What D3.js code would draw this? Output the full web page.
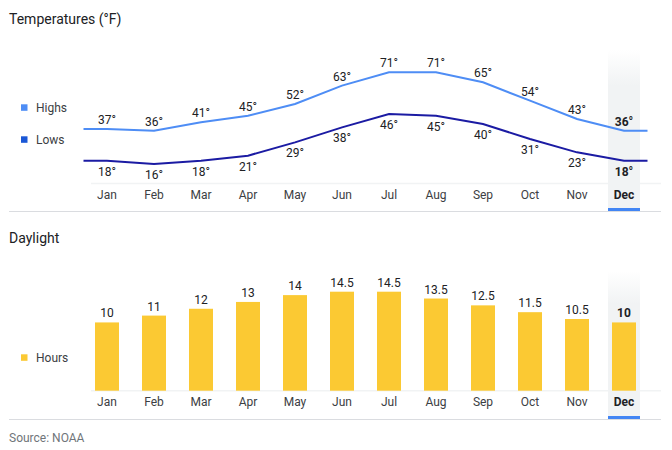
<!DOCTYPE html>
<html lang="en">
<head>
<meta charset="UTF-8">
<title>Weather</title>
<script src="https://d3js.org/d3.v7.min.js"></script>
<style>
  body { margin: 0; background: #fff; }
  svg { display: block; font-family: Roboto, Arial, sans-serif; }
  .title { font-size: 14px; fill: #202124; }
  .legend { font-size: 12px; fill: #3c4043; }
  .tick-label { font-size: 12px; fill: #3c4043; text-anchor: middle; }
  .val { font-size: 12px; fill: #202124; text-anchor: middle; }
  .sel { font-weight: bold; }
  .source { font-size: 12px; fill: #70757a; }
</style>
</head>
<body>
<svg width="672" height="450"></svg>
<script>
const months = ["Jan", "Feb", "Mar", "Apr", "May", "Jun", "Jul", "Aug", "Sep", "Oct", "Nov", "Dec"];
const highs = [37, 36, 41, 45, 52, 63, 71, 71, 65, 54, 43, 36];
const lows = [18, 16, 18, 21, 29, 38, 46, 45, 40, 31, 23, 18];
const hours = [10, 11, 12, 13, 14, 14.5, 14.5, 13.5, 12.5, 11.5, 10.5, 10];
const selected = "Dec";

const svg = d3.select("svg");

const highColor = "#4e8df5";
const lowColor = "#1b1ba3";
const lowLegend = "#1a57d6";
const barColor = "#fbc933";

// shared month scale
const x = d3.scaleBand().domain(months).range([83.5, 647.5]);
const cx = m => x(m) + x.bandwidth() / 2;

// gradient for selected column
const defs = svg.append("defs");
const grad = defs.append("linearGradient")
  .attr("id", "selgrad").attr("x1", 0).attr("x2", 0).attr("y1", 0).attr("y2", 1);
grad.append("stop").attr("offset", "0%").attr("stop-color", "#f1f3f4").attr("stop-opacity", 0);
grad.append("stop").attr("offset", "22%").attr("stop-color", "#f1f3f4").attr("stop-opacity", 1);
grad.append("stop").attr("offset", "100%").attr("stop-color", "#f1f3f4").attr("stop-opacity", 1);

function section(top, bottom, axisY) {
  // selected column background + marker
  svg.append("rect")
    .attr("x", cx(selected) - 16).attr("y", top)
    .attr("width", 32).attr("height", bottom - top)
    .attr("fill", "url(#selgrad)");
  svg.append("rect")
    .attr("x", cx(selected) - 16).attr("y", bottom - 3)
    .attr("width", 32).attr("height", 3)
    .attr("fill", "#4285f4");
  // baseline
  svg.append("line")
    .attr("x1", 91).attr("x2", 661).attr("y1", axisY).attr("y2", axisY)
    .attr("stroke", "#f1f3f4").attr("stroke-width", 1.5);
  // separator
  svg.append("line")
    .attr("x1", 9).attr("x2", 661).attr("y1", bottom + 0.5).attr("y2", bottom + 0.5)
    .attr("stroke", "#dadce0").attr("stroke-width", 1);
  // month labels
  svg.append("g").selectAll("text")
    .data(months).join("text")
    .attr("class", d => "tick-label" + (d === selected ? " sel" : ""))
    .attr("x", d => cx(d))
    .attr("y", axisY + 15.5)
    .style("fill", d => d === selected ? "#202124" : null)
    .text(d => d);
}

function legendItem(y, color, label) {
  svg.append("rect").attr("x", 21).attr("y", y - 3).attr("width", 6.5).attr("height", 6.5).attr("fill", color);
  svg.append("text").attr("class", "legend").attr("x", 36).attr("y", y + 4.5).text(label);
}

// ---- Temperatures ----
svg.append("text").attr("class", "title").attr("x", 9).attr("y", 24).text("Temperatures (°F)");
section(50, 211, 183.5);

const yT = d3.scaleLinear().domain([0, 80]).range([190.7, 57.3]);

// extend lines half a band past the first and last month
function linePoints(values) {
  const pts = values.map((v, i) => [cx(months[i]), yT(v)]);
  pts.unshift([x.range()[0], yT(values[0])]);
  pts.push([x.range()[1], yT(values[values.length - 1])]);
  return pts;
}
const line = d3.line();

svg.append("path").attr("d", line(linePoints(highs)))
  .attr("fill", "none").attr("stroke", highColor).attr("stroke-width", 2);
svg.append("path").attr("d", line(linePoints(lows)))
  .attr("fill", "none").attr("stroke", lowColor).attr("stroke-width", 2);

svg.append("g").selectAll("text").data(highs).join("text")
  .attr("class", (d, i) => "val" + (months[i] === selected ? " sel" : ""))
  .attr("x", (d, i) => cx(months[i]))
  .attr("y", d => yT(d) - 5)
  .text(d => d + "°");
svg.append("g").selectAll("text").data(lows).join("text")
  .attr("class", (d, i) => "val" + (months[i] === selected ? " sel" : ""))
  .attr("x", (d, i) => cx(months[i]))
  .attr("y", d => yT(d) + 15)
  .text(d => d + "°");

legendItem(107.3, highColor, "Highs");
legendItem(139.3, lowLegend, "Lows");

// ---- Daylight ----
svg.append("text").attr("class", "title").attr("x", 9).attr("y", 243).text("Daylight");
section(271, 419, 390.7);

const yD = d3.scaleLinear().domain([0, 14.5]).range([390.7, 291.7]);

svg.append("g").selectAll("rect").data(hours).join("rect")
  .attr("x", (d, i) => cx(months[i]) - 12)
  .attr("y", d => yD(d))
  .attr("width", 24)
  .attr("height", d => yD(0) - yD(d))
  .attr("fill", barColor);

svg.append("g").selectAll("text").data(hours).join("text")
  .attr("class", (d, i) => "val" + (months[i] === selected ? " sel" : ""))
  .attr("x", (d, i) => cx(months[i]))
  .attr("y", d => yD(d) - 5)
  .text(d => d);

legendItem(357.3, barColor, "Hours");

svg.append("text").attr("class", "source").attr("x", 9).attr("y", 442).text("Source: NOAA");
</script>
</body>
</html>
